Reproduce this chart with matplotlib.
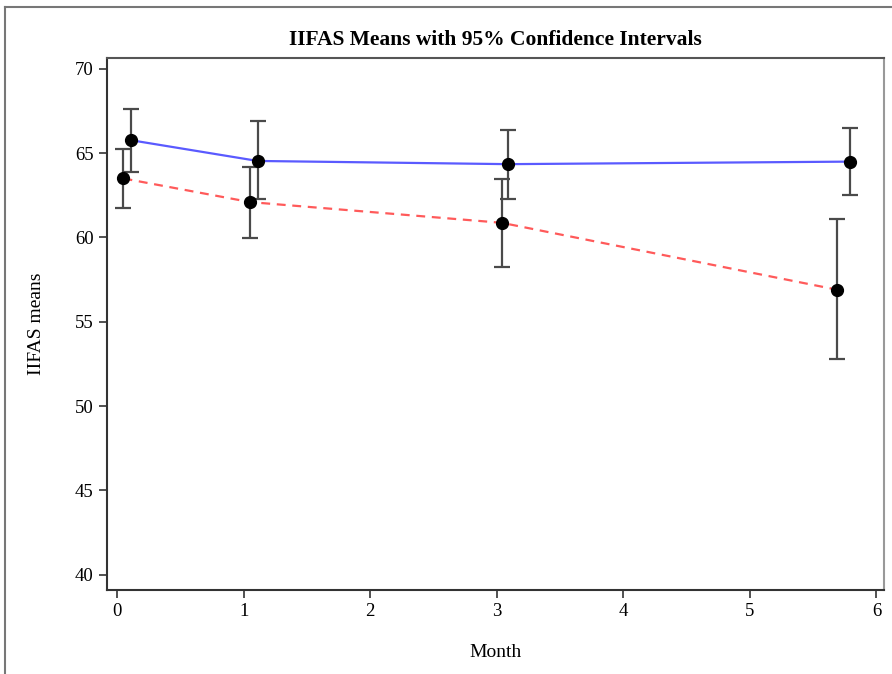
import matplotlib
matplotlib.use('Agg')
import matplotlib.pyplot as plt
from matplotlib.lines import Line2D

# данные
month_a = [0.11, 1.11, 3.09, 5.79]
mean_a = [65.77, 64.54, 64.35, 64.50]
lo_a = [63.90, 62.26, 62.26, 62.50]
hi_a = [67.62, 66.89, 66.37, 66.49]

month_b = [0.05, 1.05, 3.04, 5.69]
mean_b = [63.50, 62.10, 60.87, 56.90]
lo_b = [61.77, 59.98, 58.23, 52.78]
hi_b = [65.24, 64.20, 63.49, 61.07]

yticks = [40, 45, 50, 55, 60, 65, 70]
xticks = [0, 1, 2, 3, 4, 5, 6]

plt.rcParams['font.family'] = ['Liberation Serif', 'DejaVu Serif']

fig = plt.figure(figsize=(8.92, 6.74), dpi=100)
ax = fig.add_axes([0.12, 0.125, 0.871, 0.789])

ax.plot(month_a, mean_a, color='#5a5aff', lw=1.6, zorder=2)
ax.plot(month_b, mean_b, color='#ff5a5a', lw=1.6, ls=(0, (4, 3)), zorder=2)

for m, y, lo, hi in [(month_a, mean_a, lo_a, hi_a), (month_b, mean_b, lo_b, hi_b)]:
    err = [[v - l for v, l in zip(y, lo)], [h - v for v, h in zip(y, hi)]]
    ax.errorbar(m, y, yerr=err, fmt='o', color='black', ms=8.5,
                ecolor='#4a4a4a', elinewidth=1.6, capsize=5.5, capthick=1.6, zorder=3)

ax.set_xlim(-0.08, 6.06)
ax.set_ylim(39.1, 70.65)
ax.set_xticks(xticks)
ax.set_yticks(yticks)
ax.tick_params(labelsize=13.5, length=6, width=1.2, color='#333333')
for s in ax.spines.values():
    s.set_color('#333333')
    s.set_linewidth(1.5)
ax.spines['right'].set_color('#999999')
ax.spines['top'].set_color('#555555')

ax.set_title('IIFAS Means with 95% Confidence Intervals', fontsize=15.5, fontweight='bold', pad=9)
ax.set_xlabel('Month', fontsize=14, labelpad=17)
ax.set_ylabel('IIFAS means', fontsize=14, labelpad=22)

# рамка рисунка слева и сверху
fig.add_artist(Line2D([0.006, 0.006], [0, 0.99], transform=fig.transFigure, color='#777777', lw=1.5))
fig.add_artist(Line2D([0.006, 1.0], [0.99, 0.99], transform=fig.transFigure, color='#777777', lw=1.5))

fig.savefig('out.png', dpi=100)
